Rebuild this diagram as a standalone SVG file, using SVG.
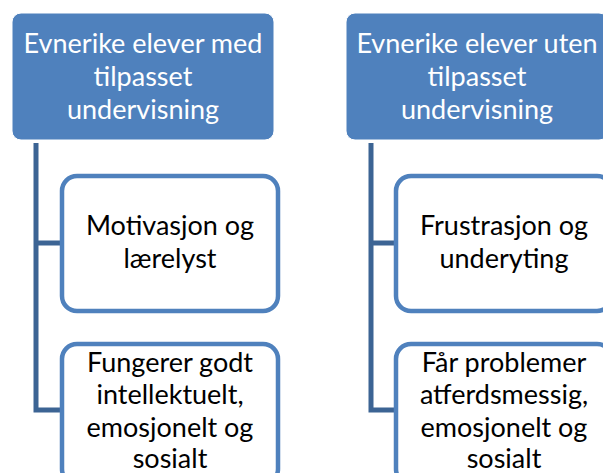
<svg xmlns="http://www.w3.org/2000/svg" width="603" height="473" viewBox="0 0 603 473">
<style>
.head{fill:#4F81BD;stroke:#ffffff;stroke-width:1}
.child{fill:#ffffff;stroke:#4F81BD;stroke-width:4.5}
.conn{fill:none;stroke:#3C6494;stroke-width:5}
.ht{font-family:Lato,"Open Sans",sans-serif;font-size:27px;fill:#ffffff;text-anchor:middle}
.ct{font-family:Lato,"Open Sans",sans-serif;font-size:27px;fill:#000000;text-anchor:middle}
</style>
<rect width="603" height="473" fill="#ffffff"/>
<g id="connectors">
<path class="conn" d="M36,143 V410 H62 M36,243 H62"/>
<path class="conn" d="M371,143 V410 H396 M371,243 H396"/>
</g>
<g id="head-left">
<rect class="head" x="12" y="13" width="262" height="127" rx="9"/>
<text class="ht" x="143" y="53">Evnerike elever med</text>
<text class="ht" x="143" y="86">tilpasset</text>
<text class="ht" x="143" y="119">undervisning</text>
</g>
<g id="head-right">
<rect class="head" x="346" y="13" width="262" height="127" rx="9"/>
<text class="ht" x="477" y="53">Evnerike elever uten</text>
<text class="ht" x="477" y="86">tilpasset</text>
<text class="ht" x="477" y="119">undervisning</text>
</g>
<g id="child-left-1">
<rect class="child" x="62" y="176" width="216" height="135" rx="15"/>
<text class="ct" x="170" y="235">Motivasjon og</text>
<text class="ct" x="170" y="268">lærelyst</text>
</g>
<g id="child-left-2">
<rect class="child" x="62" y="344" width="216" height="140" rx="15"/>
<text class="ct" x="170" y="372">Fungerer godt</text>
<text class="ct" x="170" y="404">intellektuelt,</text>
<text class="ct" x="170" y="437">emosjonelt og</text>
<text class="ct" x="170" y="468">sosialt</text>
</g>
<g id="child-right-1">
<rect class="child" x="396" y="176" width="216" height="135" rx="15"/>
<text class="ct" x="504" y="235">Frustrasjon og</text>
<text class="ct" x="504" y="268">underyting</text>
</g>
<g id="child-right-2">
<rect class="child" x="396" y="344" width="216" height="140" rx="15"/>
<text class="ct" x="504" y="372">Får problemer</text>
<text class="ct" x="504" y="404">atferdsmessig,</text>
<text class="ct" x="504" y="437">emosjonelt og</text>
<text class="ct" x="504" y="468">sosialt</text>
</g>
</svg>
